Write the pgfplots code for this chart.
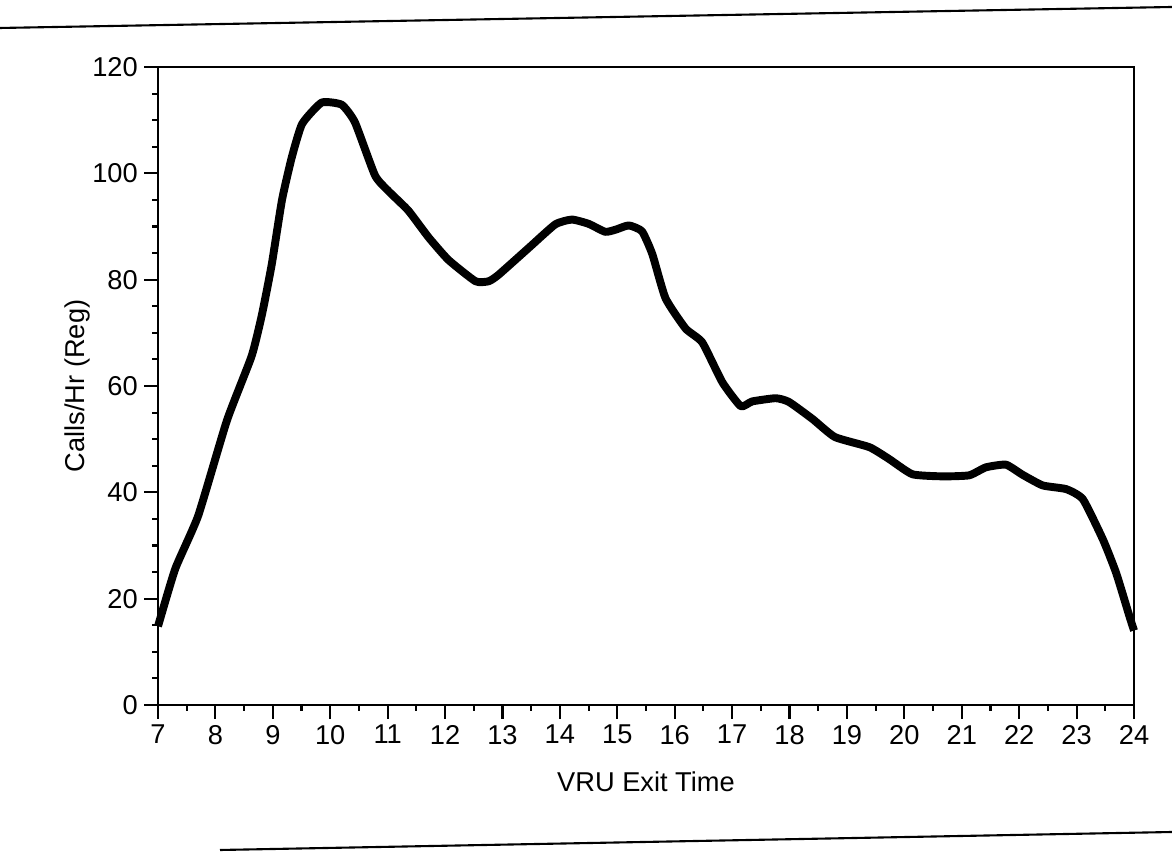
\documentclass[border=0pt]{standalone}
\usepackage{fontspec}
\setmainfont{Liberation Sans}
\usepackage{pgfplots}
\pgfplotsset{compat=1.18}

\begin{document}
\begin{tikzpicture}
% page frame of the scan: 1172 x 852 px at 0.02 cm per px
\useasboundingbox (0,0) rectangle (23.44cm,17.04cm);
\draw[line width=1.2pt] (0,16.48cm) -- (23.44cm,16.90cm);
\draw[line width=1.2pt] (4.4cm,0.04cm) -- (23.44cm,0.40cm);
\begin{axis}[
    at={(3.16cm,2.94cm)}, anchor=south west,
    scale only axis,
    width=19.52cm, height=12.76cm,
    xmin=7, xmax=24, ymin=0, ymax=120,
    xtick={7,8,...,24},
    ytick={0,20,...,120},
    minor x tick num=1,
    minor y tick num=3,
    tick align=outside,
    tick pos=left,
    major tick length=0.28cm,
    minor tick length=0.12cm,
    axis line style={line width=1.5pt},
    every tick/.style={black, line width=1.2pt},
    /pgf/number format/assume math mode=true,
    ticklabel style={font=\fontsize{15.5}{18}\selectfont},
    label style={font=\fontsize{15.5}{18}\selectfont},
    xlabel={VRU Exit Time},
    ylabel={Calls/Hr (Reg)},
    xlabel style={yshift=-0.3cm},
    ylabel style={yshift=-0.2cm},
    clip=false,
]
\addplot[black, line width=4.5pt, line join=round, smooth, tension=0.3] coordinates {
    (7.00,14.8) (7.30,25.6) (7.70,35.6) (8.20,53.5) (8.63,65.6)
    (8.81,73.4) (8.98,82.8) (9.16,95.0) (9.33,103.0) (9.51,109.3)
    (9.85,113.3) (10.20,112.9) (10.43,109.6) (10.78,99.6) (11.02,96.6)
    (11.36,93.0) (11.71,88.0) (12.06,83.7) (12.53,79.7) (12.76,79.7)
    (12.93,80.9) (13.46,86.0) (13.92,90.4) (14.21,91.3) (14.50,90.5)
    (14.79,89.0) (14.97,89.4) (15.20,90.2) (15.43,89.1) (15.61,84.8)
    (15.84,76.5) (16.19,70.8) (16.48,68.2) (16.83,60.7) (17.15,56.2)
    (17.35,57.1) (17.76,57.7) (17.99,57.0) (18.40,53.8) (18.79,50.4)
    (19.39,48.5) (19.73,46.3) (20.14,43.4) (20.67,43.0) (21.13,43.2)
    (21.42,44.7) (21.77,45.2) (22.06,43.3) (22.41,41.3) (22.82,40.6)
    (23.11,38.7) (23.46,31.1) (23.69,24.8) (23.92,16.7) (24.00,14.0)
};
\end{axis}
\end{tikzpicture}
\end{document}
